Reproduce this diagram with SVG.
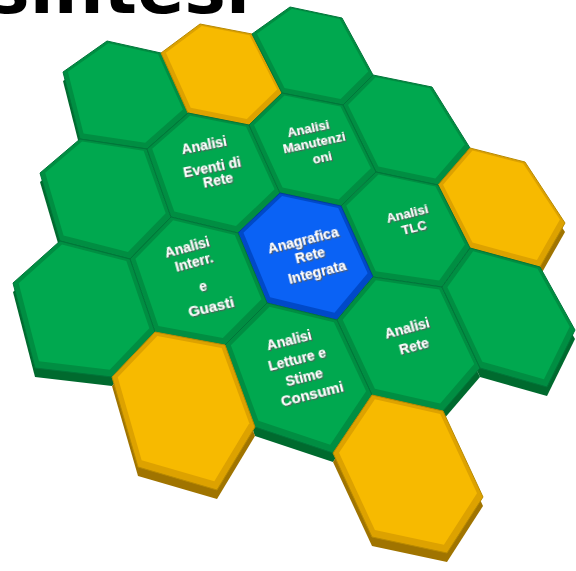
<svg xmlns="http://www.w3.org/2000/svg" xmlns:xlink="http://www.w3.org/1999/xlink" width="576" height="571" viewBox="0 0 576 571">
<style>
.g-side{fill:#006A2E}.g-bev{fill:#008E42;stroke:#00763A;stroke-width:1}.g-face{fill:#00A84F}
.y-side{fill:#A07400}.y-bev{fill:#DDA200;stroke:#B98A00;stroke-width:1}.y-face{fill:#F7BA00}
.b-bev{fill:#0049C8;stroke:#003C9E;stroke-width:1}.b-face{fill:#0A62F5}
.lbl{font-family:"Liberation Sans",Arial,sans-serif;font-weight:bold;fill:#ffffff;text-anchor:middle;filter:url(#sh)}
.title{font-family:"DejaVu Sans",sans-serif;font-weight:bold;font-size:70px;fill:#000}
</style>
<defs>
<filter id="sh" x="-20%" y="-40%" width="140%" height="180%"><feDropShadow dx="1" dy="1.3" stdDeviation="0.4" flood-color="#5a5a5a" flood-opacity="1"/></filter>
<polygon id="hA" points="63,72 107,41 161,53 188,113 147,149 80,139"/>
<polygon id="hB" points="161,53 200,24 252,34 282,93 249,125 188,113"/>
<polygon id="hC" points="252,34 290,7 342,18 373,75 343,105 282,93"/>
<polygon id="hD" points="343,105 373,75 432,87 470,148 438,185 376,172"/>
<polygon id="hE" points="40,173 80,139 147,149 171,217 130,259 60,241"/>
<polygon id="hF" points="147,149 188,113 249,125 280,193 238,233 171,217"/>
<polygon id="hG" points="249,125 282,93 343,105 376,172 341,206 280,193"/>
<polygon id="hH" points="438,185 470,148 525,162 565,223 540,267 470,248"/>
<polygon id="hI" points="341,206 376,172 438,185 470,248 442,287 373,277"/>
<polygon id="hJ" points="238,233 280,193 341,206 373,277 337,320 267,303"/>
<polygon id="hK" points="130,259 171,217 238,233 267,303 225,345 155,332"/>
<polygon id="hL" points="13,283 60,241 130,259 155,332 112,377 35,368"/>
<polygon id="hM" points="337,320 373,277 442,287 480,368 443,411 372,395"/>
<polygon id="hN" points="442,287 470,248 540,267 575,330 547,387 480,368"/>
<polygon id="hO" points="225,345 267,303 337,320 372,395 333,453 255,427"/>
<polygon id="hP" points="112,377 155,332 225,345 255,427 217,490 138,467"/>
<polygon id="hQ" points="333,453 372,395 443,411 483,497 447,553 372,537"/>
</defs>
<rect width="576" height="571" fill="#ffffff"/>
<text class="title" x="-12" y="13" textLength="262" lengthAdjust="spacingAndGlyphs">sintesi</text>
<g id="sides" transform="translate(0,9)">
<use xlink:href="#hA" class="g-side"/><use xlink:href="#hB" class="y-side"/><use xlink:href="#hC" class="g-side"/>
<use xlink:href="#hD" class="g-side"/><use xlink:href="#hE" class="g-side"/><use xlink:href="#hH" class="y-side"/>
<use xlink:href="#hL" class="g-side"/><use xlink:href="#hM" class="g-side"/><use xlink:href="#hN" class="g-side"/>
<use xlink:href="#hO" class="g-side"/><use xlink:href="#hP" class="y-side"/><use xlink:href="#hQ" class="y-side"/>
</g>
<g id="tileA"><use xlink:href="#hA" class="g-bev"/><use xlink:href="#hA" class="g-face" transform="translate(124.3,92.5) scale(0.92) translate(-124.3,-94.5)"/></g>
<g id="tileB"><use xlink:href="#hB" class="y-bev"/><use xlink:href="#hB" class="y-face" transform="translate(222,71.7) scale(0.92) translate(-222,-73.7)"/></g>
<g id="tileC"><use xlink:href="#hC" class="g-bev"/><use xlink:href="#hC" class="g-face" transform="translate(313.7,53.3) scale(0.92) translate(-313.7,-55.3)"/></g>
<g id="tileD"><use xlink:href="#hD" class="g-bev"/><use xlink:href="#hD" class="g-face" transform="translate(405.3,126.7) scale(0.92) translate(-405.3,-128.7)"/></g>
<g id="tileE"><use xlink:href="#hE" class="g-bev"/><use xlink:href="#hE" class="g-face" transform="translate(104.7,194.3) scale(0.92) translate(-104.7,-196.3)"/></g>
<g id="tileF"><use xlink:href="#hF" class="g-bev"/><use xlink:href="#hF" class="g-face" transform="translate(212.2,169.7) scale(0.92) translate(-212.2,-171.7)"/>
<text class="lbl" font-size="14" x="204" y="150" transform="rotate(-11 204 145)">Analisi</text>
<text class="lbl" font-size="14" x="212" y="172" transform="rotate(-11 212 167)">Eventi di</text>
<text class="lbl" font-size="14" x="218" y="185" transform="rotate(-11 218 180)">Rete</text></g>
<g id="tileG"><use xlink:href="#hG" class="g-bev"/><use xlink:href="#hG" class="g-face" transform="translate(311.8,147) scale(0.92) translate(-311.8,-149)"/>
<text class="lbl" font-size="13" x="308" y="133" transform="rotate(-12 308 128)">Analisi</text>
<text class="lbl" font-size="13" x="314" y="147" transform="rotate(-12 314 142)">Manutenzi</text>
<text class="lbl" font-size="13" x="322" y="162" transform="rotate(-12 322 157)">oni</text></g>
<g id="tileH"><use xlink:href="#hH" class="y-bev"/><use xlink:href="#hH" class="y-face" transform="translate(501.3,203.5) scale(0.92) translate(-501.3,-205.5)"/></g>
<g id="tileI"><use xlink:href="#hI" class="g-bev"/><use xlink:href="#hI" class="g-face" transform="translate(406.7,227.2) scale(0.92) translate(-406.7,-229.2)"/>
<text class="lbl" font-size="13" x="407" y="218" transform="rotate(-14 407 213)">Analisi</text>
<text class="lbl" font-size="13" x="414" y="232" transform="rotate(-14 414 227)">TLC</text></g>
<g id="tileJ"><use xlink:href="#hJ" class="b-bev"/><use xlink:href="#hJ" class="b-face" transform="translate(306,253.3) scale(0.92) translate(-306,-255.3)"/>
<text class="lbl" font-size="14" x="303" y="245" transform="rotate(-14 303 240)">Anagrafica</text>
<text class="lbl" font-size="14" x="310" y="260" transform="rotate(-14 310 255)">Rete</text>
<text class="lbl" font-size="14" x="317" y="277" transform="rotate(-14 317 272)">Integrata</text></g>
<g id="tileK"><use xlink:href="#hK" class="g-bev"/><use xlink:href="#hK" class="g-face" transform="translate(197.7,279.5) scale(0.92) translate(-197.7,-281.5)"/>
<text class="lbl" font-size="14" x="187" y="252" transform="rotate(-15 187 247)">Analisi</text>
<text class="lbl" font-size="14" x="194" y="267" transform="rotate(-15 194 262)">Interr.</text>
<text class="lbl" font-size="14" x="203" y="291" transform="rotate(-13 203 286)">e</text>
<text class="lbl" font-size="15" x="211" y="312" transform="rotate(-13 211 307)">Guasti</text></g>
<g id="tileL"><use xlink:href="#hL" class="g-bev"/><use xlink:href="#hL" class="g-face" transform="translate(84.2,308) scale(0.92) translate(-84.2,-310)"/></g>
<g id="tileM"><use xlink:href="#hM" class="g-bev"/><use xlink:href="#hM" class="g-face" transform="translate(407.8,341) scale(0.92) translate(-407.8,-343)"/>
<text class="lbl" font-size="14" x="407" y="333" transform="rotate(-15 407 328)">Analisi</text>
<text class="lbl" font-size="14" x="414" y="351" transform="rotate(-15 414 346)">Rete</text></g>
<g id="tileN"><use xlink:href="#hN" class="g-bev"/><use xlink:href="#hN" class="g-face" transform="translate(509,312.5) scale(0.92) translate(-509,-314.5)"/></g>
<g id="tileO"><use xlink:href="#hO" class="g-bev"/><use xlink:href="#hO" class="g-face" transform="translate(298.2,371.8) scale(0.92) translate(-298.2,-373.8)"/>
<text class="lbl" font-size="14" x="289" y="345" transform="rotate(-14 289 340)">Analisi</text>
<text class="lbl" font-size="14" x="297" y="364" transform="rotate(-14 297 359)">Letture e</text>
<text class="lbl" font-size="14" x="304" y="382" transform="rotate(-14 304 377)">Stime</text>
<text class="lbl" font-size="15" x="312" y="399" transform="rotate(-14 312 394)">Consumi</text></g>
<g id="tileP"><use xlink:href="#hP" class="y-bev"/><use xlink:href="#hP" class="y-face" transform="translate(183.7,404.3) scale(0.92) translate(-183.7,-406.3)"/></g>
<g id="tileQ"><use xlink:href="#hQ" class="y-bev"/><use xlink:href="#hQ" class="y-face" transform="translate(408.3,472.3) scale(0.92) translate(-408.3,-474.3)"/></g>
</svg>
